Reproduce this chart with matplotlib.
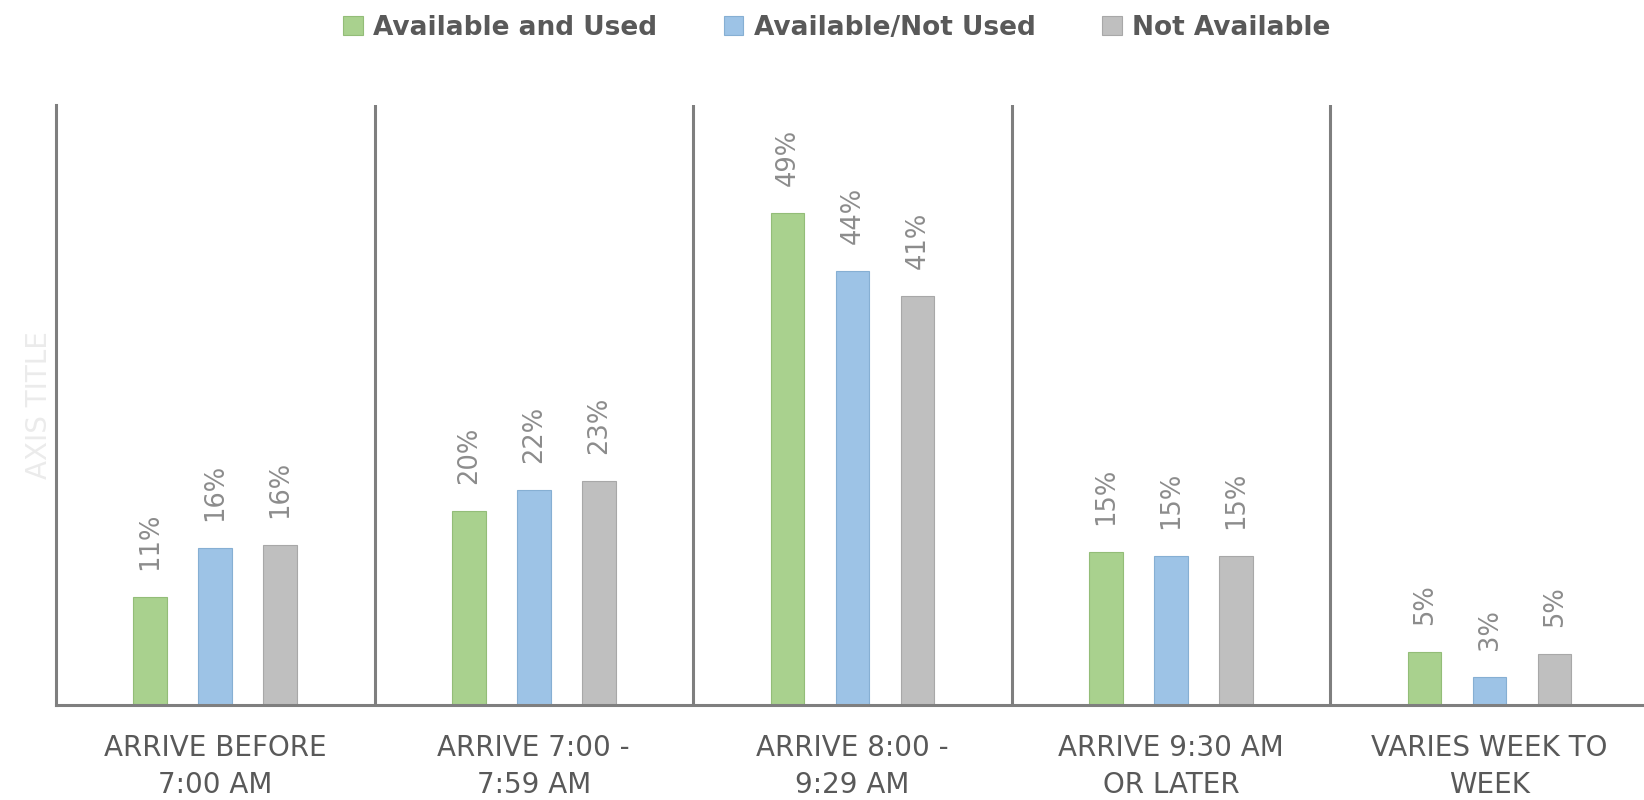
import matplotlib
matplotlib.use('Agg')
import matplotlib.pyplot as plt
import numpy as np

categories = ['ARRIVE BEFORE\n7:00 AM', 'ARRIVE 7:00 -\n7:59 AM', 'ARRIVE 8:00 -\n9:29 AM',
              'ARRIVE 9:30 AM\nOR LATER', 'VARIES WEEK TO\nWEEK']
series_names = ['Available and Used', 'Available/Not Used', 'Not Available']
used = [0.108, 0.194, 0.492, 0.153, 0.053]
not_used = [0.157, 0.215, 0.434, 0.149, 0.028]
not_avail = [0.160, 0.224, 0.409, 0.149, 0.051]
labels_used = ['11%', '20%', '49%', '15%', '5%']
labels_not_used = ['16%', '22%', '44%', '15%', '3%']
labels_not_avail = ['16%', '23%', '41%', '15%', '5%']

colors = ['#A9D18E', '#9DC3E6', '#BFBFBF']
edges = ['#93BD78', '#86AFD3', '#A8A8A8']
line_col = '#7F7F7F'
text_col = '#595959'

fig = plt.figure(figsize=(16.44, 8), dpi=100)
ax = fig.add_axes([0.034, 0.119, 0.969, 0.75])

x = np.arange(len(categories))
width = 0.105
offsets = [-0.204, 0.0, 0.204]
all_vals = [used, not_used, not_avail]
all_labels = [labels_used, labels_not_used, labels_not_avail]

for i in range(3):
    bars = ax.bar(x + offsets[i], all_vals[i], width, color=colors[i], edgecolor=edges[i],
                  linewidth=0.8, label=series_names[i], zorder=2)
    for b, lab in zip(bars, all_labels[i]):
        ax.annotate(lab, (b.get_x() + b.get_width() / 2, b.get_height()),
                    xytext=(0, 19), textcoords='offset points', rotation=90,
                    ha='center', va='bottom', fontsize=18.5, color='#8C8C8C')

ax.set_xlim(-0.5, 4.5)
ax.set_ylim(0, 0.6)
for sep in [0.5, 1.5, 2.5, 3.5]:
    ax.axvline(sep, color=line_col, lw=2.2, zorder=1)

for s in ['top', 'right']:
    ax.spines[s].set_visible(False)
for s in ['left', 'bottom']:
    ax.spines[s].set_color(line_col)
    ax.spines[s].set_linewidth(2.2)

ax.set_yticks([])
ax.set_xticks(x)
ax.set_xticklabels(categories, fontsize=20, color=text_col, linespacing=1.42)
ax.tick_params(axis='x', length=0, pad=21)
ax.set_ylabel('AXIS TITLE', fontsize=20, color='#EBEBEB', labelpad=2)

fig.legend(loc='center', bbox_to_anchor=(0.509, 0.965), ncol=3, frameon=False,
           prop={'weight': 'bold', 'size': 19},
           labelcolor=text_col, handlelength=0.75, handleheight=0.75, handletextpad=0.4,
           columnspacing=2.5)

fig.savefig('out.png', dpi=100)
